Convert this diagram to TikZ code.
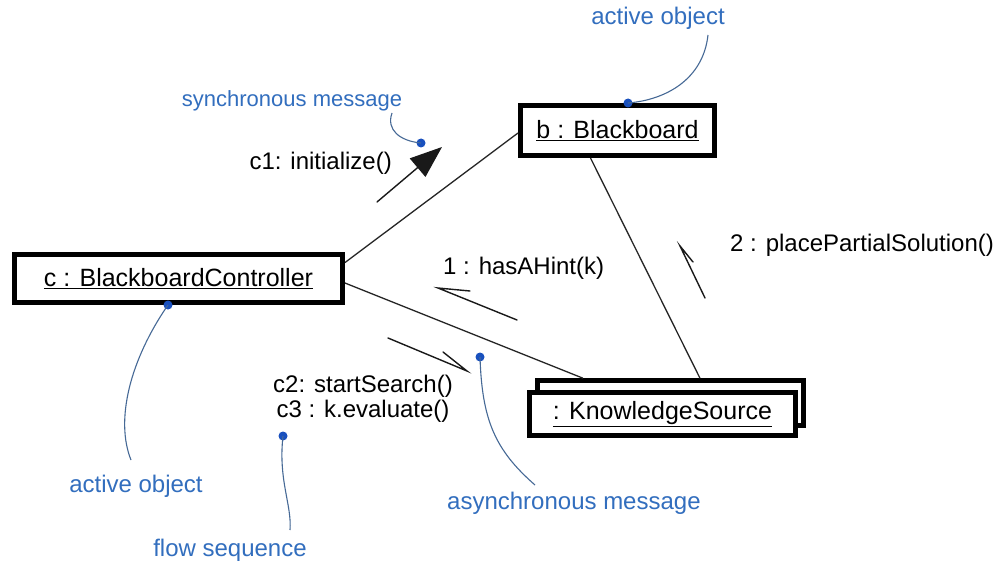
\documentclass[tikz,border=0pt]{standalone}
\usepackage{fontspec}
\setmainfont{Liberation Sans}
\usetikzlibrary{arrows.meta,calc}
\definecolor{annot}{RGB}{50,110,190}
\definecolor{curvec}{RGB}{70,105,150}
\definecolor{dotc}{RGB}{25,80,190}
\begin{document}
\begin{tikzpicture}[x=1pt,y=-1pt,
  obj/.style={draw=black,line width=5pt,fill=white,inner sep=0pt,font=\fontsize{25}{30}\selectfont},
  conn/.style={line width=1.3pt,black!85},
  msg/.style={line width=1.4pt,black!90,line cap=round},
  lbl/.style={font=\fontsize{24}{25}\selectfont,inner sep=0pt},
  note/.style={font=\fontsize{24}{28}\selectfont,text=annot,inner sep=0pt},
  callout/.style={curvec,line width=1.1pt},
  bdot/.style={circle,fill=dotc,inner sep=0pt,minimum size=9pt}
]
\useasboundingbox[fill=white] (0,0) rectangle (1001,567);

% objects
\node[obj,minimum width=328pt,minimum height=48pt] (c) at (178.5,278.5) {\underline{c : BlackboardController}};
\node[obj,minimum width=194pt,minimum height=50pt] (b) at (617.5,130.5) {\underline{b : Blackboard}};
\node[obj,line width=4.5pt,minimum width=266pt,minimum height=45pt] (ksback) at (670.5,403) {};
\node[obj,minimum width=266pt,minimum height=43pt] (ks) at (662.5,414) {\underline{: KnowledgeSource}};

% links
\draw[conn] ([yshift=16pt]c.east) -- ([yshift=-2.5pt]b.west);
\draw[conn] ([yshift=-4.5pt]c.east) -- ([xshift=-87.5pt]ksback.north);
\draw[conn] ([xshift=-27pt]b.south) -- ([xshift=29.5pt]ksback.north);

% messages
\coordinate (s1) at (377,202); \coordinate (s1t) at (442,147);
\draw[msg,-{Triangle[length=32pt,width=24pt]}] (s1) -- (s1t);
\coordinate (a1) at (517,320); \coordinate (a1t) at (438,288);
\draw[msg] (a1) -- (a1t) -- ++(32,3);
\coordinate (a2) at (388,338); \coordinate (a2t) at (467,371);
\draw[msg] (a2) -- (a2t) -- ++(-24,-19);
\coordinate (a3) at (705,298); \coordinate (a3t) at (680,246);
\draw[msg] (a3) -- (a3t) -- ++(13,16);

% message labels
\node[lbl,anchor=east] (lc1) at (392,163) {c1: initialize()};
\node[lbl,anchor=west] (l1) at (443,268) {1 : hasAHint(k)};
\node[lbl,anchor=west] (l2) at (730,245) {2 : placePartialSolution()};
\node[lbl,align=center] (lc23) at (363,398.5) {c2: startSearch()\\c3 : k.evaluate()};

% annotations
\node[note,font=\fontsize{22}{26}\selectfont] (nsync) at (292,101) {synchronous message};
\node[note] (nact1) at (658,18) {active object};
\node[note] (nact2) at (136,486) {active object};
\node[note] (nflow) at (230,550) {flow sequence};
\node[note,anchor=west] (nasync) at (447,503) {asynchronous message};

\node[bdot] (d1) at ([xshift=10.5pt]b.north) {};
\node[bdot] (d2) at (421,143) {};
\node[bdot] (d3) at ([xshift=-10.5pt]c.south) {};
\node[bdot] (d4) at (480,357) {};
\node[bdot] (d5) at (283,436) {};

\draw[callout] (708,35) .. controls (703,80) and (665,100) .. (d1.center);
\draw[callout] (392,113) .. controls (386,130) and (400,141) .. (d2.center);
\draw[callout] (d3.center) .. controls (130,360) and (115,420) .. (131,460);
\draw[callout] (d4.center) .. controls (482,420) and (495,450) .. (535,485);
\draw[callout] (d5.center) .. controls (278,480) and (292,505) .. (290,530);
\end{tikzpicture}
\end{document}
